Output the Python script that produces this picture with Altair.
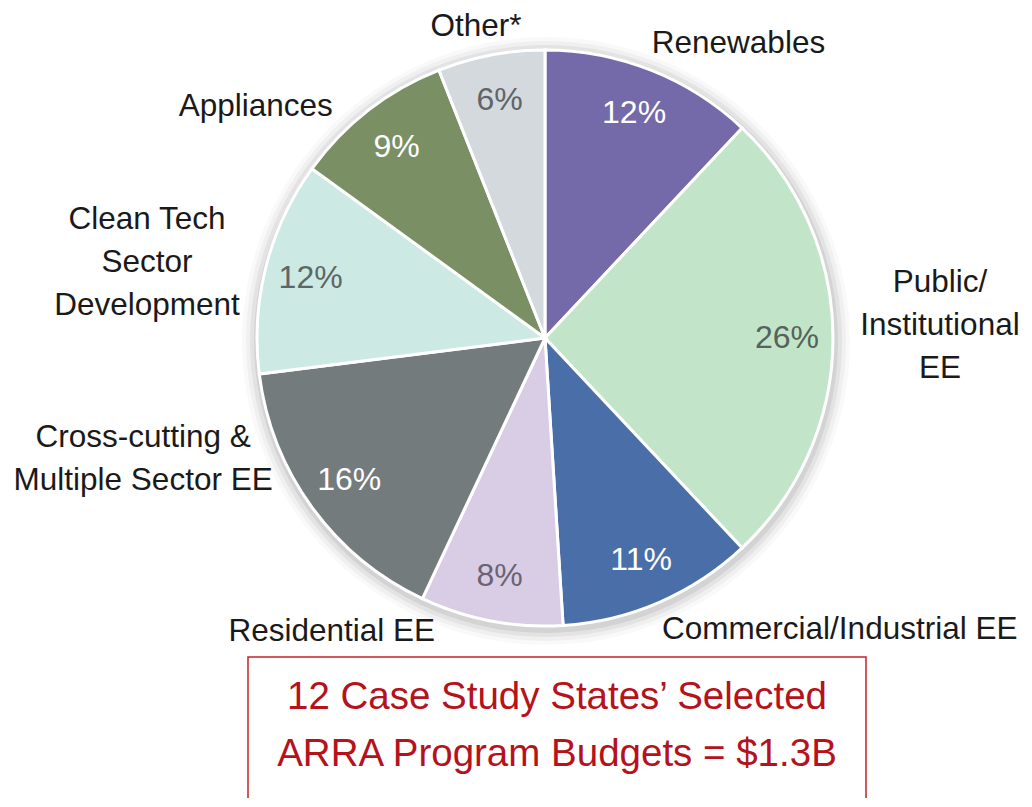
import math
import altair as alt
import pandas as pd

# ---------------- data ----------------
CATEGORIES = [
    "Renewables",
    "Public/Institutional EE",
    "Commercial/Industrial EE",
    "Residential EE",
    "Cross-cutting & Multiple Sector EE",
    "Clean Tech Sector Development",
    "Appliances",
    "Other*",
]
SHARES = [12, 26, 11, 8, 16, 12, 9, 6]
LABEL_LINES = [
    ["Renewables"],
    ["Public/", "Institutional", "EE"],
    ["Commercial/Industrial EE"],
    ["Residential EE"],
    ["Cross-cutting &", "Multiple Sector EE"],
    ["Clean Tech", "Sector", "Development"],
    ["Appliances"],
    ["Other*"],
]
TITLE_LINES = ["12 Case Study States\u2019 Selected", "ARRA Program Budgets = $1.3B"]

# ---------------- styles ----------------
SLICE_COLORS = ["#7469a9", "#c2e5c9", "#4a6ea8", "#d9cde5", "#747b7c",
                "#cde9e4", "#7a8f63", "#d4d9de"]
PCT_INK = ["#ffffff", "#56625a", "#ffffff", "#6b6373", "#ffffff",
           "#5d6666", "#ffffff", "#5f6469"]
FONT = "Liberation Sans, Arial, Helvetica, sans-serif"

# ---------------- layout ----------------
CX, CY = 537, 330          # pie centre inside the view
R_PIE = 288
R_PCT = 242
R_LAB = 320
# per-label nudges (first line anchor): (align, dx, dy)
LABEL_LAYOUT = [
    ("left", -11, 4),
    ("center", 75, -55),
    ("left", -10, -2),
    ("right", -50, -20),
    ("center", -143, -88),
    ("center", -88, -38),
    ("right", -16, 22),
    ("center", -9, 3),
]

df = pd.DataFrame({
    "category": CATEGORIES,
    "share": SHARES,
    "order": list(range(len(CATEGORIES))),
    "label": ["\n".join(l) for l in LABEL_LINES],
})

THETA = alt.Scale(domain=[0, 100], range=[0, 2 * math.pi])

base = (
    alt.Chart(df)
    .transform_window(cum="sum(share)", sort=[alt.SortField("order")], frame=[None, 0])
    .transform_calculate(mid="datum.cum - datum.share / 2", pct="datum.share + '%'")
)

# soft shadow rings
shadow_layers = []
for r, op in [(304, 0.025), (300, 0.035), (296, 0.05), (292, 0.07)]:
    shadow_layers.append(
        alt.Chart(df)
        .transform_aggregate(total="sum(share)")
        .mark_arc(outerRadius=r, color="#000000", opacity=op)
        .encode(theta=alt.Theta("total:Q", scale=THETA),
                x=alt.value(CX + 1), y=alt.value(CY + 3))
    )

arcs = (
    alt.Chart(df)
    .mark_arc(outerRadius=R_PIE, stroke="white", strokeWidth=3)
    .encode(
        theta=alt.Theta("share:Q", stack=True, scale=THETA),
        order=alt.Order("order:Q"),
        color=alt.Color("category:N",
                        scale=alt.Scale(domain=CATEGORIES, range=SLICE_COLORS),
                        legend=None),
        x=alt.value(CX), y=alt.value(CY),
    )
)

pct = (
    base.mark_text(radius=R_PCT, font=FONT, fontSize=32, baseline="middle", align="center")
    .encode(
        theta=alt.Theta("mid:Q", scale=THETA),
        text="pct:N",
        color=alt.Color("category:N",
                        scale=alt.Scale(domain=CATEGORIES, range=PCT_INK),
                        legend=None),
        x=alt.value(CX), y=alt.value(CY),
    )
)

label_layers = []
for i, (align, dx, dy) in enumerate(LABEL_LAYOUT):
    label_layers.append(
        base.transform_filter(alt.datum.order == i)
        .mark_text(radius=R_LAB, dx=dx, dy=dy, align=align, baseline="middle",
                   lineBreak="\n", lineHeight=43, font=FONT, fontSize=31.5,
                   color="#1a1a1a")
        .encode(theta=alt.Theta("mid:Q", scale=THETA), text="label:N",
                x=alt.value(CX), y=alt.value(CY))
    )

title_df = pd.DataFrame({"t": ["\n".join(TITLE_LINES)]})
box = (
    alt.Chart(title_df)
    .mark_rect(fillOpacity=0, stroke="#c8202a", strokeWidth=1.5)
    .encode(x=alt.value(240), x2=alt.value(858), y=alt.value(649), y2=alt.value(805))
)
title = (
    alt.Chart(title_df)
    .mark_text(lineBreak="\n", lineHeight=57, font=FONT, fontSize=38.5,
               color="#b5121b", align="center", baseline="middle")
    .encode(text="t:N", x=alt.value(549), y=alt.value(689))
)

chart = (
    alt.layer(*shadow_layers, arcs, pct, *label_layers, box, title)
    .resolve_scale(color="independent")
    .properties(width=1016, height=790, padding=0,
                autosize=alt.AutoSizeParams(type="none"))
    .configure_view(stroke=None)
)

chart.save("out.html", embed_options={"renderer": "svg", "actions": False})
